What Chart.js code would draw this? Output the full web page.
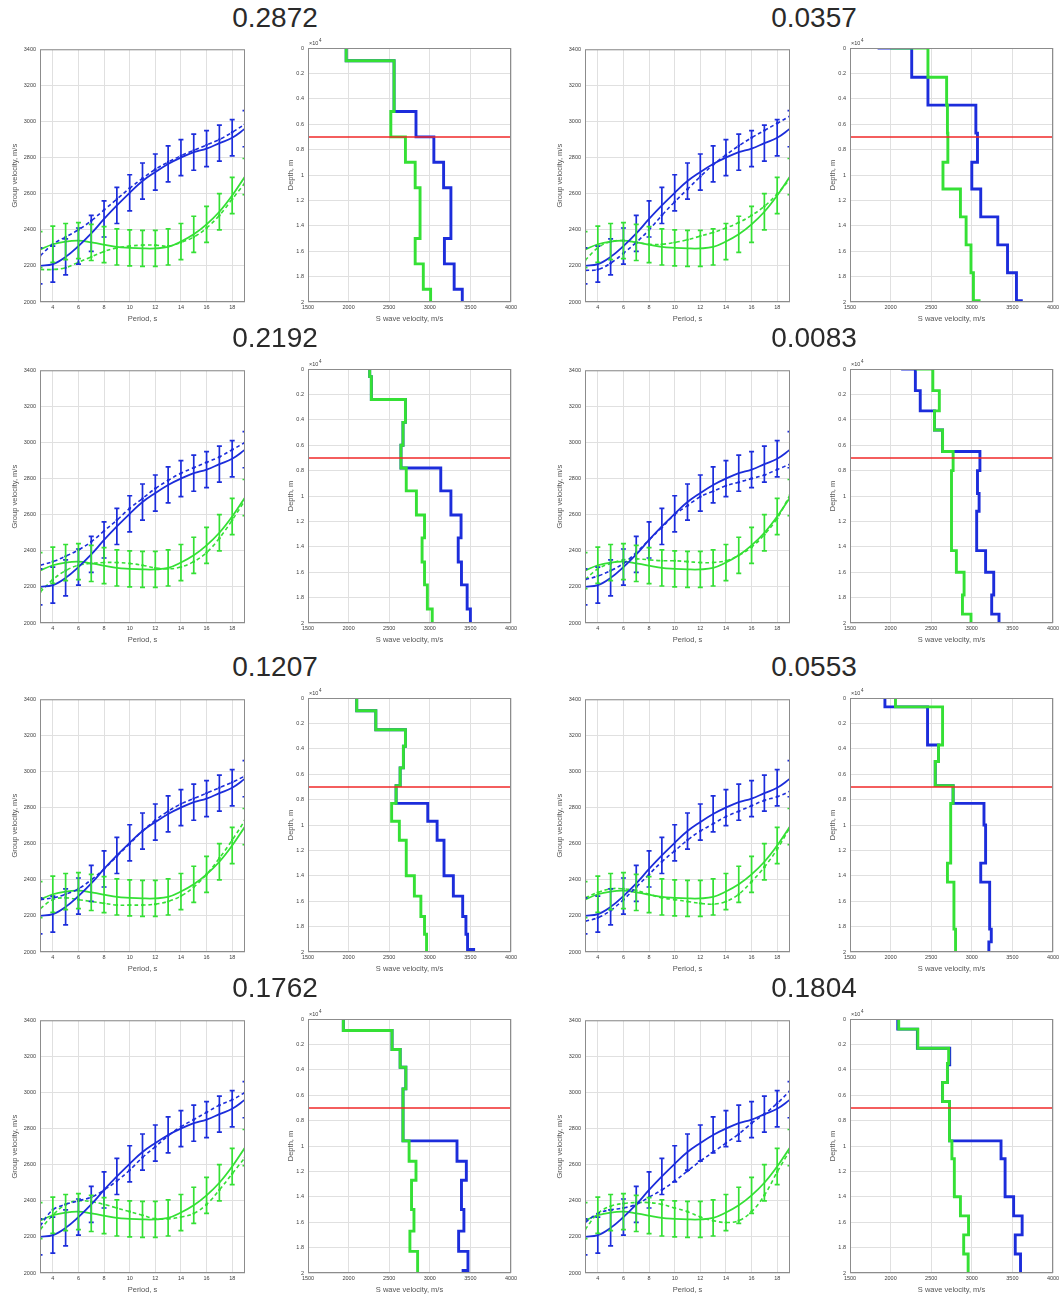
<!DOCTYPE html>
<html>
<head>
<meta charset="utf-8">
<script src="https://cdn.jsdelivr.net/npm/chart.js@4.4.0/dist/chart.umd.min.js"></script>
<style>
  html, body { margin: 0; padding: 0; background: #fff; overflow: hidden; }
  #page { position: relative; width: 1060px; height: 1299px; }
  #page canvas { position: absolute; }
  .title {
    position: absolute;
    font: 28px "Liberation Sans", Arial, sans-serif;
    color: #2a2a2a;
    transform: translate(-50%, -50%);
    white-space: nowrap;
  }
</style>
</head>
<body>
<div id="page"></div>
<script>
// ---- data ----
const panelTitles = ['0.2872', '0.0357', '0.2192', '0.0083', '0.1207', '0.0553', '0.1762', '0.1804'];

const periods = [3, 4, 5, 6, 7, 8, 9, 10, 11, 12, 13, 14, 15, 16, 17, 18, 19];
// observed group velocities (solid, with error bars) - same in every panel
const blueObserved  = [2200, 2210, 2250, 2310, 2380, 2460, 2535, 2605, 2670, 2720, 2765, 2800, 2830, 2850, 2880, 2910, 2960];
const greenObserved = [2290, 2320, 2335, 2340, 2330, 2318, 2305, 2300, 2297, 2297, 2305, 2335, 2375, 2430, 2500, 2590, 2695];
const errorHalfWidth = 100;

// modelled curves (dashed), one row per panel
const blueModel = [
  [2255, 2320, 2360, 2400, 2450, 2510, 2570, 2630, 2685, 2735, 2775, 2810, 2840, 2870, 2900, 2940, 2985],
  [2175, 2180, 2215, 2270, 2330, 2400, 2480, 2555, 2625, 2695, 2760, 2815, 2865, 2910, 2950, 2990, 3030],
  [2320, 2340, 2370, 2405, 2450, 2510, 2570, 2635, 2690, 2745, 2790, 2830, 2860, 2890, 2920, 2960, 3000],
  [2240, 2260, 2290, 2330, 2390, 2460, 2530, 2600, 2650, 2700, 2730, 2760, 2780, 2800, 2820, 2850, 2880],
  [2290, 2300, 2320, 2350, 2400, 2460, 2530, 2600, 2670, 2730, 2780, 2820, 2850, 2880, 2910, 2940, 2975],
  [2170, 2190, 2230, 2290, 2360, 2430, 2500, 2560, 2620, 2670, 2710, 2750, 2780, 2810, 2840, 2860, 2890],
  [2260, 2350, 2380, 2400, 2420, 2460, 2510, 2570, 2640, 2700, 2760, 2810, 2850, 2890, 2930, 2960, 3000],
  [2280, 2330, 2350, 2360, 2380, 2420, 2460, 2510, 2565, 2620, 2670, 2720, 2770, 2830, 2880, 2940, 3010]
];
const greenModel = [
  [2180, 2180, 2190, 2220, 2250, 2280, 2300, 2310, 2315, 2315, 2310, 2330, 2360, 2410, 2480, 2570, 2660],
  [2230, 2300, 2335, 2340, 2330, 2320, 2320, 2330, 2345, 2365, 2385, 2410, 2440, 2480, 2530, 2600, 2680],
  [2170, 2240, 2290, 2320, 2330, 2335, 2335, 2330, 2320, 2305, 2300, 2310, 2340, 2390, 2470, 2570, 2680],
  [2240, 2300, 2330, 2350, 2355, 2350, 2345, 2345, 2340, 2335, 2335, 2345, 2375, 2420, 2490, 2580, 2710],
  [2240, 2290, 2300, 2290, 2280, 2270, 2260, 2260, 2260, 2265, 2280, 2310, 2360, 2430, 2520, 2620, 2730],
  [2300, 2330, 2350, 2350, 2340, 2320, 2300, 2290, 2280, 2270, 2265, 2280, 2320, 2390, 2470, 2570, 2690],
  [2240, 2320, 2380, 2400, 2395, 2380, 2360, 2340, 2320, 2300, 2300, 2310, 2330, 2380, 2460, 2550, 2640],
  [2240, 2330, 2370, 2385, 2390, 2390, 2380, 2360, 2340, 2310, 2290, 2280, 2290, 2340, 2430, 2560, 2680]
];

// velocity profiles: layer top depths (x10^4 m) and S wave velocities (m/s)
const greenLayerTops = [
  [0, 0.1, 0.5, 0.7, 0.9, 1.1, 1.5, 1.7, 1.9],
  [0, 0, 0.23, 0.45, 0.67, 0.9, 1.11, 1.33, 1.55, 1.77, 1.99],
  [0, 0.06, 0.24, 0.42, 0.6, 0.78, 0.96, 1.15, 1.33, 1.52, 1.7, 1.89],
  [0, 0, 0.17, 0.33, 0.48, 0.65, 0.8, 1.43, 1.6, 1.78, 1.93],
  [0, 0.1, 0.25, 0.38, 0.55, 0.69, 0.83, 0.97, 1.12, 1.4, 1.56, 1.72, 1.86],
  [0, 0.07, 0.37, 0.5, 0.69, 0.83, 1.3, 1.45, 1.82],
  [0, 0.09, 0.24, 0.38, 0.55, 0.96, 1.12, 1.27, 1.5, 1.67, 1.83],
  [0, 0.08, 0.23, 0.35, 0.5, 0.65, 0.96, 1.1, 1.4, 1.55, 1.7, 1.85]
];
const greenLayerVs = [
  [1970, 2560, 2520, 2700, 2820, 2880, 2820, 2920, 3010],
  [2000, 2460, 2690, 2700, 2705, 2645, 2860, 2930, 2990, 3020, 3090],
  [2260, 2280, 2700, 2670, 2645, 2710, 2835, 2935, 2905, 2935, 2970, 3030],
  [2310, 2520, 2600, 2540, 2640, 2770, 2750, 2810, 2905, 2885, 2990],
  [2100, 2335, 2700, 2675, 2635, 2585, 2530, 2625, 2710, 2810, 2890, 2935, 2960],
  [2060, 2640, 2590, 2550, 2770, 2740, 2700, 2780, 2800],
  [1935, 2535, 2635, 2705, 2670, 2745, 2830, 2775, 2805, 2755, 2850],
  [2100, 2335, 2715, 2700, 2640, 2725, 2755, 2785, 2860, 2960, 2900, 2955]
];
const blueLayerTops = [
  [0, 0.1, 0.5, 0.7, 0.9, 1.1, 1.5, 1.7, 1.9],
  [0, 0, 0.23, 0.45, 0.67, 0.9, 1.11, 1.33, 1.55, 1.77, 1.99],
  [0, 0.06, 0.24, 0.42, 0.6, 0.78, 0.96, 1.15, 1.33, 1.52, 1.7, 1.89],
  [0, 0, 0.17, 0.33, 0.48, 0.65, 0.8, 0.98, 1.12, 1.43, 1.6, 1.78, 1.93],
  [0, 0.1, 0.25, 0.38, 0.55, 0.69, 0.83, 0.97, 1.12, 1.4, 1.56, 1.72, 1.86, 1.98],
  [0, 0.07, 0.37, 0.5, 0.69, 0.83, 1.0, 1.3, 1.45, 1.82, 1.92],
  [0, 0.09, 0.24, 0.38, 0.55, 0.96, 1.12, 1.27, 1.5, 1.67, 1.83, 1.98],
  [0, 0.08, 0.23, 0.36, 0.5, 0.65, 0.96, 1.1, 1.4, 1.55, 1.7, 1.85]
];
const blueLayerVs = [
  [1970, 2560, 2830, 3050, 3170, 3260, 3180, 3300, 3400],
  [1840, 2260, 2460, 3050, 3070, 3000, 3110, 3320, 3440, 3550, 3610],
  [2260, 2280, 2700, 2670, 2645, 3135, 3260, 3385, 3350, 3390, 3460, 3500],
  [2130, 2305, 2365, 2540, 2640, 3100, 3070, 3090, 3060, 3170, 3270, 3245, 3335],
  [2100, 2335, 2700, 2675, 2635, 2585, 2975, 3090, 3175, 3290, 3405, 3445, 3465, 3540],
  [1930, 2455, 2590, 2550, 2770, 3150, 3170, 3110, 3220, 3240, 3210],
  [1935, 2535, 2635, 2705, 2670, 3335, 3450, 3390, 3420, 3355, 3470, 3410],
  [2088, 2330, 2728, 2700, 2640, 2725, 3360, 3410, 3515, 3620, 3535, 3600]
];
const redLineDepth = 0.7;

const periodTicks = [4, 6, 8, 10, 12, 14, 16, 18];
const groupVelTicks = [2000, 2200, 2400, 2600, 2800, 3000, 3200, 3400];
const depthTicks = [0, 0.2, 0.4, 0.6, 0.8, 1, 1.2, 1.4, 1.6, 1.8, 2];
const swaveTicks = [1500, 2000, 2500, 3000, 3500, 4000];

// ---- layout ----
const rowTop = [48, 369, 698, 1019];
const dispLeft = [40, 585];
const profLeft = [308, 850];
const titleX = [275, 814];
const titleY = [18, 338, 667, 988];
const DISP_W = 205, PROF_W = 203, PLOT_H = 254;

const BLUE = '#1c2ddb', GREEN = '#35e035', RED = '#f02828';
const FONT = '"Liberation Sans", Arial, sans-serif';
const tickFont = { family: FONT, size: 5.5 };
const axisFont = { family: FONT, size: 7.5 };
const gridOpts = { color: '#e0e0e0', lineWidth: 1, drawTicks: false };

const page = document.getElementById('page');

function makeCanvas(left, top, w, h) {
  const c = document.createElement('canvas');
  c.width = w; c.height = h;
  c.style.left = left + 'px';
  c.style.top = top + 'px';
  page.appendChild(c);
  return c;
}

// box round the plot area
const frame = {
  id: 'frame',
  afterDraw(chart) {
    const { ctx, chartArea: a } = chart;
    ctx.save();
    ctx.strokeStyle = '#8c8c8c';
    ctx.lineWidth = 1;
    ctx.strokeRect(a.left + 0.5, a.top + 0.5, a.right - a.left - 1, a.bottom - a.top - 1);
    ctx.restore();
  }
};

const errorBars = {
  id: 'errorBars',
  afterDatasetsDraw(chart) {
    const { ctx, chartArea: a, scales: { x, y } } = chart;
    ctx.save();
    ctx.beginPath();
    ctx.rect(a.left, a.top, a.right - a.left, a.bottom - a.top);
    ctx.clip();
    chart.data.datasets.forEach(ds => {
      if (!ds.errorHalf) return;
      ctx.strokeStyle = ds.borderColor;
      ctx.lineWidth = 1.7;
      ctx.beginPath();
      ds.data.forEach(p => {
        const px = x.getPixelForValue(p.x);
        const hi = y.getPixelForValue(p.y + ds.errorHalf);
        const lo = y.getPixelForValue(p.y - ds.errorHalf);
        ctx.moveTo(px, hi); ctx.lineTo(px, lo);
        ctx.moveTo(px - 2.5, hi); ctx.lineTo(px + 2.5, hi);
        ctx.moveTo(px - 2.5, lo); ctx.lineTo(px + 2.5, lo);
      });
      ctx.stroke();
    });
    ctx.restore();
  }
};

// "x10^4" multiplier above the depth axis
const exponent = {
  id: 'exponent',
  afterDraw(chart) {
    const { ctx, chartArea: a } = chart;
    ctx.save();
    ctx.fillStyle = '#404040';
    ctx.textBaseline = 'alphabetic';
    ctx.font = '5.5px ' + FONT;
    ctx.fillText('\u00d710', a.left + 1, a.top - 3);
    ctx.font = '4.5px ' + FONT;
    ctx.fillText('4', a.left + 11, a.top - 6);
    ctx.restore();
  }
};

function xyPoints(xs, ys) {
  return xs.map((v, k) => ({ x: v, y: ys[k] }));
}

function layerPoints(tops, vs) {
  const pts = tops.map((d, k) => ({ x: vs[k], y: d }));
  pts.push({ x: vs[vs.length - 1], y: depthTicks[depthTicks.length - 1] });
  return pts;
}

function dispersionPanel(i, plotLeft, plotTop) {
  const padL = 40, padR = 8, padT = 6, padB = 24;
  const c = makeCanvas(plotLeft - padL, plotTop - padT, padL + DISP_W + padR, padT + PLOT_H + padB);
  const solid = (vals, color) => ({
    data: xyPoints(periods, vals), borderColor: color, backgroundColor: color,
    borderWidth: 1.8, pointRadius: 0, tension: 0.4, errorHalf: errorHalfWidth
  });
  const dashed = (vals, color) => ({
    data: xyPoints(periods, vals), borderColor: color, backgroundColor: color,
    borderWidth: 1.6, borderDash: [4, 3], pointRadius: 1.3, pointBorderWidth: 0, tension: 0.4
  });
  new Chart(c, {
    type: 'line',
    data: {
      datasets: [
        solid(blueObserved, BLUE),
        dashed(blueModel[i], BLUE),
        solid(greenObserved, GREEN),
        dashed(greenModel[i], GREEN)
      ]
    },
    options: {
      responsive: false, animation: false, events: [],
      layout: { padding: { top: padT, right: padR, left: 0, bottom: 0 } },
      plugins: { legend: { display: false }, tooltip: { enabled: false } },
      scales: {
        x: {
          type: 'linear', min: periods[0], max: periods[periods.length - 1],
          afterBuildTicks: s => { s.ticks = periodTicks.map(v => ({ value: v })); },
          afterFit: s => { s.height = padB; },
          grid: gridOpts, border: { display: false },
          ticks: { font: tickFont, color: '#404040', padding: 2, maxRotation: 0, autoSkip: false, callback: v => String(v) },
          title: { display: true, text: 'Period, s', font: axisFont, color: '#555', padding: { top: 0, bottom: 3 } }
        },
        y: {
          type: 'linear', min: groupVelTicks[0], max: groupVelTicks[groupVelTicks.length - 1],
          afterBuildTicks: s => { s.ticks = groupVelTicks.map(v => ({ value: v })); },
          afterFit: s => { s.width = padL; },
          grid: gridOpts, border: { display: false },
          ticks: { font: tickFont, color: '#404040', padding: 4, autoSkip: false, callback: v => String(v) },
          title: { display: true, text: 'Group velocity, m/s', font: axisFont, color: '#555', padding: { top: 10.5, bottom: 0 } }
        }
      }
    },
    plugins: [errorBars, frame]
  });
}

function profilePanel(i, plotLeft, plotTop) {
  const padL = 32, padR = 10, padT = 10, padB = 24;
  const c = makeCanvas(plotLeft - padL, plotTop - padT, padL + PROF_W + padR, padT + PLOT_H + padB);
  new Chart(c, {
    type: 'line',
    data: {
      datasets: [
        { data: [{ x: swaveTicks[0], y: redLineDepth }, { x: swaveTicks[swaveTicks.length - 1], y: redLineDepth }],
          borderColor: RED, borderWidth: 1.5, pointRadius: 0, order: 0 },
        { data: layerPoints(greenLayerTops[i], greenLayerVs[i]), borderColor: GREEN,
          borderWidth: 2.9, pointRadius: 0, stepped: 'after', order: 1 },
        { data: layerPoints(blueLayerTops[i], blueLayerVs[i]), borderColor: BLUE,
          borderWidth: 2.9, pointRadius: 0, stepped: 'after', order: 2 }
      ]
    },
    options: {
      responsive: false, animation: false, events: [],
      layout: { padding: { top: padT, right: padR, left: 0, bottom: 0 } },
      plugins: { legend: { display: false }, tooltip: { enabled: false } },
      scales: {
        x: {
          type: 'linear', min: swaveTicks[0], max: swaveTicks[swaveTicks.length - 1],
          afterBuildTicks: s => { s.ticks = swaveTicks.map(v => ({ value: v })); },
          afterFit: s => { s.height = padB; },
          grid: gridOpts, border: { display: false },
          ticks: { font: tickFont, color: '#404040', padding: 2, maxRotation: 0, autoSkip: false, callback: v => String(v) },
          title: { display: true, text: 'S wave velocity, m/s', font: axisFont, color: '#555', padding: { top: 0, bottom: 3 } }
        },
        y: {
          type: 'linear', reverse: true, min: depthTicks[0], max: depthTicks[depthTicks.length - 1],
          afterBuildTicks: s => { s.ticks = depthTicks.map(v => ({ value: v })); },
          afterFit: s => { s.width = padL; },
          grid: gridOpts, border: { display: false },
          ticks: { font: tickFont, color: '#404040', padding: 4, autoSkip: false, callback: v => String(Math.round(v * 10) / 10) },
          title: { display: true, text: 'Depth, m', font: axisFont, color: '#555', padding: { top: 10.5, bottom: 0 } }
        }
      }
    },
    plugins: [frame, exponent]
  });
}

for (let row = 0; row < 4; row++) {
  for (let col = 0; col < 2; col++) {
    const i = row * 2 + col;
    dispersionPanel(i, dispLeft[col], rowTop[row]);
    profilePanel(i, profLeft[col], rowTop[row]);
    const t = document.createElement('div');
    t.className = 'title';
    t.textContent = panelTitles[i];
    t.style.left = titleX[col] + 'px';
    t.style.top = titleY[row] + 'px';
    page.appendChild(t);
  }
}
</script>
</body>
</html>
